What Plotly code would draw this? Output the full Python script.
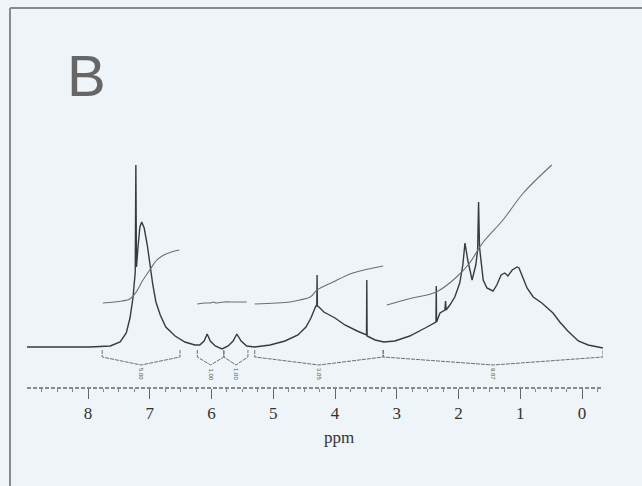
import plotly.graph_objects as go

# ---------------- data ----------------
spec_ppm = [8.99, 7.97, 7.64, 7.48, 7.38, 7.32, 7.27, 7.25, 7.235, 7.225, 7.215,
            7.19, 7.16, 7.13, 7.09, 7.04, 7.00, 6.95, 6.90, 6.83, 6.74, 6.59, 6.43,
            6.27, 6.19, 6.12, 6.07, 6.02, 5.94, 5.83, 5.73, 5.65, 5.59, 5.52, 5.43,
            5.30, 5.05, 4.81, 4.60, 4.47, 4.39, 4.34, 4.31, 4.295, 4.29, 4.285,
            4.26, 4.18, 4.00, 3.84, 3.64, 3.50, 3.49, 3.485, 3.48, 3.35, 3.21,
            3.03, 2.79, 2.54, 2.365, 2.36, 2.355, 2.30, 2.22, 2.21, 2.20, 2.14,
            2.06, 1.98, 1.93, 1.895, 1.85, 1.78, 1.72, 1.69, 1.675, 1.66, 1.64,
            1.60, 1.54, 1.44, 1.38, 1.31, 1.25, 1.20, 1.13, 1.05, 1.02, 0.97,
            0.89, 0.79, 0.65, 0.47, 0.36, 0.23, 0.06, -0.10, -0.34]
spec_int = [0, 0, 1, 5, 14, 29, 50, 65, 75, 182, 80,
            100, 120, 125, 119, 102, 82, 62, 45, 32, 20, 11, 5,
            2, 2, 6, 13, 6, 1, -2, 1, 6, 13, 6, 1,
            0, 2, 6, 12, 20, 29, 37, 41, 41, 72, 41,
            40, 35, 29, 22, 16, 12, 12, 67, 11, 7, 5,
            6, 11, 19, 25, 61, 25, 34, 37, 46, 37, 42,
            50, 64, 82, 104, 87, 67, 82, 97, 145, 100, 87,
            67, 59, 56, 62, 72, 74, 71, 77, 80, 79, 72,
            59, 50, 44, 34, 25, 16, 6, 2, -1]

integ1_ppm = [7.76, 7.45, 7.32, 7.22, 7.12, 7.00, 6.90, 6.80, 6.65, 6.52]
integ1_val = [44, 46, 48, 55, 66, 77, 86, 91, 95, 97]
integ2_ppm = [6.23, 6.10, 6.02, 5.97, 5.92, 5.80, 5.65, 5.43]
integ2_val = [43, 44, 44, 45, 44, 45, 45, 45]
integ3_ppm = [5.30, 4.73, 4.57, 4.40, 4.29, 4.03, 3.71, 3.22]
integ3_val = [43, 45, 47, 50, 57, 65, 74, 81]
integ4_ppm = [3.16, 2.75, 2.36, 2.03, 1.82, 1.61, 1.28, 0.95, 0.49]
integ4_val = [42, 49, 55, 70, 84, 104, 127, 154, 182]

region_start = [7.77, 6.23, 5.80, 5.30, 3.22]
region_end = [6.51, 5.80, 5.41, 3.22, -0.34]
region_labels = ["5.00", "1.00", "1.00", "3.05", "9.87"]

tick_vals = [0, 1, 2, 3, 4, 5, 6, 7, 8]
axis_title = "ppm"
panel_label = "B"

# ---------------- styling / layout ----------------
W, H = 642, 486
ML, MR = 27, 39
PX_PER_PPM = 61.75
X0_PX = 582  # pixel of 0 ppm
BASE_PX = 347
AXIS_PX = 388

x_lo = (X0_PX - ML) / PX_PER_PPM
x_hi = (X0_PX - (W - MR)) / PX_PER_PPM
y_lo, y_hi = BASE_PX - H, BASE_PX

def pxx(px):
    return (px - ML) / (W - ML - MR)

def pxy(py):
    return (H - py) / H

INK = "#3a3a3a"
INK2 = "#6e6e6e"
BG = "#eef4f8"

fig = go.Figure()

fig.add_trace(go.Scatter(x=spec_ppm, y=spec_int, mode="lines",
                         line=dict(color=INK, width=1.4), hoverinfo="skip"))

for xs, ys in [(integ1_ppm, integ1_val), (integ2_ppm, integ2_val),
               (integ3_ppm, integ3_val), (integ4_ppm, integ4_val)]:
    fig.add_trace(go.Scatter(x=xs, y=ys, mode="lines", line_shape="spline",
                             line=dict(color=INK2, width=1.1), hoverinfo="skip"))

# integration brackets
for s, e, lab in zip(region_start, region_end, region_labels):
    c = (s + e) / 2
    fig.add_trace(go.Scatter(x=[s, s, c, e, e], y=[-3, -10, -18, -10, -3],
                             mode="lines", line=dict(color=INK2, width=1, dash="4px,1px"),
                             hoverinfo="skip"))
    fig.add_annotation(x=c, y=-19, xref="x", yref="y", text=lab, textangle=90,
                       showarrow=False, yanchor="top", xanchor="center",
                       font=dict(family="Liberation Sans", size=6, color="#555"))

fig.add_annotation(x=pxx(86), y=pxy(76), xref="paper", yref="paper",
                   text=panel_label, showarrow=False, xanchor="center", yanchor="middle",
                   font=dict(family="Liberation Sans", size=58, color="#666"))
fig.add_annotation(x=pxx(339), y=pxy(437), xref="paper", yref="paper",
                   text=axis_title, showarrow=False, xanchor="center", yanchor="middle",
                   font=dict(family="Liberation Serif", size=17, color="#333"))

# dotted axis line, as on the printed spectrum
fig.add_shape(type="line", xref="paper", yref="paper",
              x0=0, x1=1, y0=pxy(AXIS_PX), y1=pxy(AXIS_PX),
              line=dict(color="#666", width=1.5, dash="4px,2px"))

# frame of the scanned panel
fig.add_shape(type="line", xref="paper", yref="paper",
              x0=pxx(10), y0=pxy(8), x1=pxx(10), y1=pxy(486),
              line=dict(color="#8a8a8a", width=2))
fig.add_shape(type="line", xref="paper", yref="paper",
              x0=pxx(10), y0=pxy(8), x1=pxx(642), y1=pxy(8),
              line=dict(color="#8a8a8a", width=2))

fig.update_layout(
    width=W, height=H, showlegend=False,
    margin=dict(l=ML, r=MR, t=0, b=0, autoexpand=False),
    paper_bgcolor=BG, plot_bgcolor=BG,
    xaxis=dict(range=[x_lo, x_hi], anchor="free", position=pxy(AXIS_PX),
               showline=False,
               ticks="outside", ticklen=10, tickwidth=1.3, tickcolor="#666",
               tickvals=tick_vals, showgrid=False, zeroline=False,
               tickfont=dict(family="Liberation Serif", size=17, color="#333"),
               minor=dict(ticks="outside", ticklen=3, dtick=0.25, tickcolor="#888",
                          showgrid=False)),
    yaxis=dict(range=[y_lo, y_hi], visible=False, showgrid=False, zeroline=False),
)

fig.write_html("out.html", config={"displayModeBar": False},
               post_script="document.body.style.margin='0';"
                           "document.body.style.background='" + BG + "';")
